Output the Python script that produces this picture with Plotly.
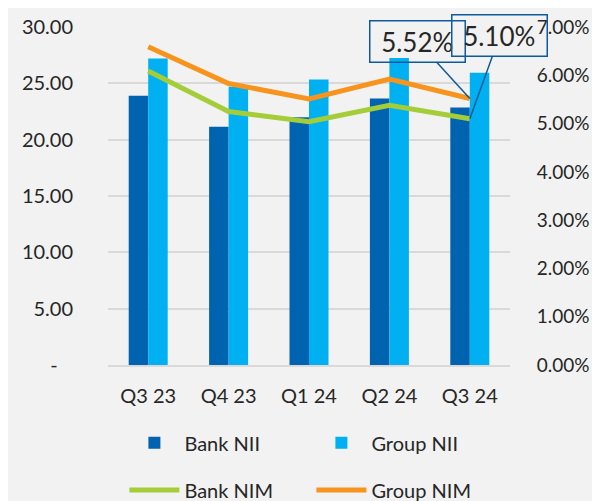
import plotly.graph_objects as go

categories = ["Q3 23", "Q4 23", "Q1 24", "Q2 24", "Q3 24"]
bank_nii = [23.9, 21.15, 22.0, 23.65, 22.85]
group_nii = [27.2, 24.7, 25.35, 27.25, 25.95]
bank_nim = [6.09, 5.25, 5.04, 5.38, 5.10]
group_nim = [6.59, 5.83, 5.51, 5.92, 5.52]

left_tickvals = [0, 5, 10, 15, 20, 25, 30]
left_ticktext = ["-\u00a0\u00a0\u00a0", "5.00", "10.00", "15.00", "20.00", "25.00", "30.00"]
right_tickvals = [0, 1, 2, 3, 4, 5, 6, 7]
right_ticktext = ["0.00%", "1.00%", "2.00%", "3.00%", "4.00%", "5.00%", "6.00%", "7.00%"]

FONT = "Lato"
TXT = "#262626"

fig = go.Figure()
fig.add_trace(go.Bar(x=categories, y=bank_nii, name="Bank NII", marker_color="#0063AF",
                     marker_line_width=0, legend="legend"))
fig.add_trace(go.Bar(x=categories, y=group_nii, name="Group NII", marker_color="#00B0F0",
                     marker_line_width=0, legend="legend"))
fig.add_trace(go.Scatter(x=categories, y=bank_nim, name="Bank NIM", mode="lines",
                         line=dict(color="#A4CD39", width=5), yaxis="y2", legend="legend2"))
fig.add_trace(go.Scatter(x=categories, y=group_nim, name="Group NIM", mode="lines",
                         line=dict(color="#F7941D", width=5), yaxis="y2", legend="legend2"))

ann_style = dict(showarrow=True, arrowhead=0, arrowwidth=1.5, arrowcolor="#0F5A9C",
                 bordercolor="#0F5A9C", borderwidth=1.5, borderpad=4,
                 font=dict(family=FONT, size=26, color=TXT), xref="x", yref="y2")
fig.add_annotation(x=categories[4], y=group_nim[4], text=f"\u00a0{group_nim[4]:.2f}%\u00a0",
                   ax=-52, ay=-57, **ann_style)
fig.add_annotation(x=categories[4], y=bank_nim[4], text=f"\u00a0{bank_nim[4]:.2f}%\u00a0",
                   ax=30, ay=-83, **ann_style)

leg_common = dict(orientation="h", xref="container", yref="container", x=0.194,
                  xanchor="left", yanchor="middle", entrywidth=122, entrywidthmode="pixels",
                  font=dict(size=20, color=TXT), bgcolor="rgba(0,0,0,0)", itemwidth=50,
                  traceorder="normal")

fig.update_layout(
    width=600, height=501,
    margin=dict(l=100, r=98, t=19, b=144),
    paper_bgcolor="#F2F2F2", plot_bgcolor="#F2F2F2",
    barmode="group", bargap=0.515, bargroupgap=0,
    font=dict(family=FONT, size=19, color=TXT),
    xaxis=dict(range=[-0.5, 4.5], showgrid=False, showline=True, linecolor="#D9D9D9",
               linewidth=1.5, ticks="outside", ticklen=12, tickcolor="rgba(0,0,0,0)",
               automargin=False, tickfont=dict(size=20, color=TXT)),
    yaxis=dict(range=[0, 30], tickvals=left_tickvals, ticktext=left_ticktext,
               showgrid=True, gridcolor="#D9D9D9", gridwidth=1.5, zeroline=False,
               ticks="outside", ticklen=30, tickcolor="rgba(0,0,0,0)", automargin=False,
               tickfont=dict(size=20, color=TXT)),
    yaxis2=dict(range=[0, 7], tickvals=right_tickvals, ticktext=right_ticktext,
                overlaying="y", side="right", showgrid=False, zeroline=False,
                ticks="outside", ticklen=22, tickcolor="rgba(0,0,0,0)", automargin=False,
                tickfont=dict(size=19, color=TXT)),
    legend=dict(y=0.132, **leg_common),
    legend2=dict(y=0.038, **leg_common),
)

fig.write_html("out.html")
